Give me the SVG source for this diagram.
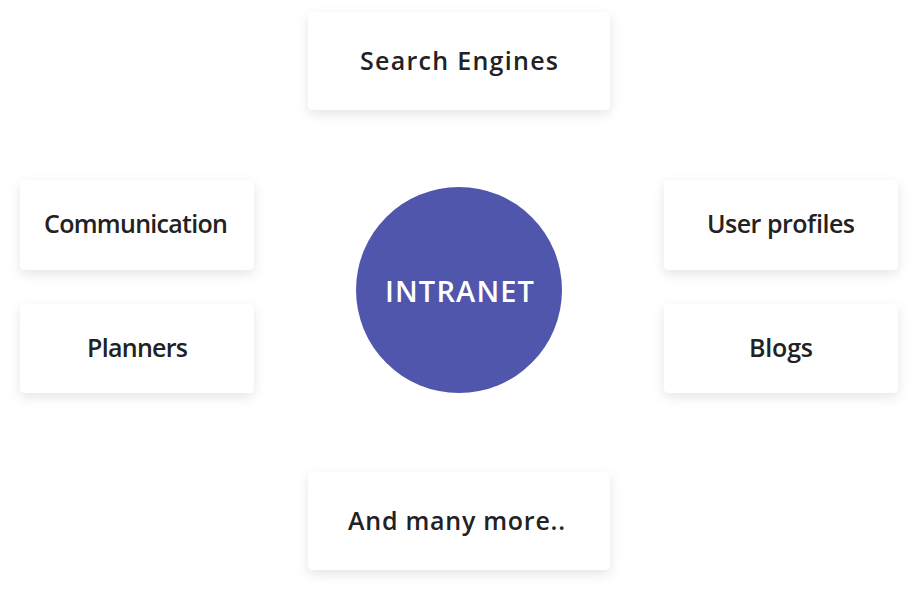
<svg xmlns="http://www.w3.org/2000/svg" width="918" height="599" viewBox="0 0 918 599">
<style>
.box{fill:#ffffff;filter:url(#sh)}
.lbl{font-family:"Open Sans","Liberation Sans",sans-serif;font-weight:600;font-size:25px;fill:#222222;text-anchor:middle}
.hub{font-family:"Open Sans","Liberation Sans",sans-serif;font-weight:600;font-size:29px;fill:#ffffff;text-anchor:middle}
</style>
<defs>
<filter id="sh" x="-20%" y="-30%" width="140%" height="170%">
<feDropShadow dx="0" dy="4" stdDeviation="6" flood-color="#000000" flood-opacity="0.10"/>
</filter>
</defs>
<rect width="918" height="599" fill="#ffffff"/>
<g id="connectors"></g>
<g id="search-engines"><rect class="box" x="308" y="12" width="302" height="98" rx="5"/><text class="lbl" x="459" y="70" textLength="198" lengthAdjust="spacing">Search Engines</text></g>
<g id="communication"><rect class="box" x="20" y="180" width="234" height="90" rx="5"/><text class="lbl" x="136" y="233" textLength="184" lengthAdjust="spacing">Communication</text></g>
<g id="planners"><rect class="box" x="20" y="304" width="234" height="89" rx="5"/><text class="lbl" x="137.5" y="357" textLength="101" lengthAdjust="spacing">Planners</text></g>
<g id="user-profiles"><rect class="box" x="664" y="180" width="234" height="90" rx="5"/><text class="lbl" x="781" y="233" textLength="148" lengthAdjust="spacing">User profiles</text></g>
<g id="blogs"><rect class="box" x="664" y="304" width="234" height="89" rx="5"/><text class="lbl" x="781" y="357" textLength="64" lengthAdjust="spacing">Blogs</text></g>
<g id="and-many-more"><rect class="box" x="308" y="472" width="302" height="98" rx="5"/><text class="lbl" x="456.5" y="530" textLength="217" lengthAdjust="spacing">And many more..</text></g>
<g id="intranet"><circle cx="459" cy="290" r="103" fill="#5156ad"/><text class="hub" x="459.5" y="302" textLength="149" lengthAdjust="spacing">INTRANET</text></g>
</svg>
